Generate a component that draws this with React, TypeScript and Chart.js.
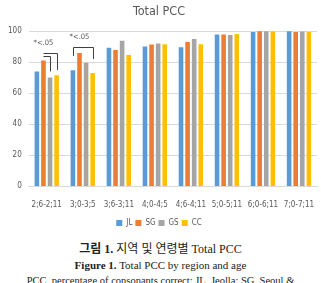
import React, { useEffect, useRef } from "react";
import { Chart, registerables } from "chart.js";

Chart.register(...registerables);

const ageGroups = ["2;6-2;11", "3;0-3;5", "3;6-3;11", "4;0-4;5", "4;6-4;11", "5;0-5;11", "6;0-6;11", "7;0-7;11"];
const regions = ["JL", "SG", "GS", "CC"];
const jlValues = [74, 74.8, 89.3, 90, 89.6, 97.8, 99.3, 99.8];
const sgValues = [81, 85.9, 87.8, 91.3, 93, 97.8, 99.8, 99.3];
const gsValues = [70, 79.6, 93.7, 92, 94.8, 97.4, 99.8, 99.6];
const ccValues = [71.5, 73, 84.6, 91.5, 91.5, 98, 99.6, 99.3];
const regionColors = ["#5B9BD5", "#ED7D31", "#A5A5A5", "#FFC000"];
const yTicks = [0, 20, 40, 60, 80, 100];
const sigLabel = "*<.05";

const chartFont = "'DejaVu Sans Condensed', Roboto, sans-serif";

// Significance markers: bracket between two bars of a group, at a value level.
const brackets = [
  { group: 0, from: 1, to: 3, level: 86, leftDrop: 0, rightDrop: 75 },
  { group: 0, from: 1, to: 2, level: 84, leftDrop: 0, rightDrop: 74 },
  { group: 1, from: 0, to: 3, level: 89.7, leftDrop: 84, rightDrop: 82 },
];
const sigNotes = [
  { group: 0, level: 92.5 },
  { group: 1, level: 95.8 },
];

const sigPlugin = {
  id: "sigMarks",
  afterDatasetsDraw(chart: any) {
    const ctx = chart.ctx;
    const y = chart.scales.y;
    const barX = (ds: number, g: number) => chart.getDatasetMeta(ds).data[g].x;
    ctx.save();
    ctx.strokeStyle = "#3f3f3f";
    ctx.lineWidth = 1;
    brackets.forEach((b) => {
      const x1 = Math.round(barX(b.from, b.group)) + 0.5;
      const x2 = Math.round(barX(b.to, b.group)) + 0.5;
      const yt = Math.round(y.getPixelForValue(b.level)) + 0.5;
      ctx.beginPath();
      if (b.leftDrop) {
        ctx.moveTo(x1, y.getPixelForValue(b.leftDrop));
        ctx.lineTo(x1, yt);
      } else {
        ctx.moveTo(x1, yt);
      }
      ctx.lineTo(x2, yt);
      ctx.lineTo(x2, y.getPixelForValue(b.rightDrop));
      ctx.stroke();
    });
    ctx.fillStyle = "#595959";
    ctx.font = "7.5px " + chartFont;
    ctx.textAlign = "center";
    ctx.textBaseline = "middle";
    sigNotes.forEach((n) => {
      const cx = barX(1, n.group);
      ctx.fillText(sigLabel, cx, y.getPixelForValue(n.level));
    });
    ctx.restore();
  },
};

function PccChart() {
  const canvasRef = useRef<HTMLCanvasElement | null>(null);

  useEffect(() => {
    document.body.style.margin = "0";
    const canvas = canvasRef.current;
    if (!canvas) return;
    Chart.defaults.font.family = chartFont;
    const seriesValues = [jlValues, sgValues, gsValues, ccValues];
    const chart = new Chart(canvas, {
      type: "bar",
      data: {
        labels: ageGroups,
        datasets: regions.map((name, i) => ({
          label: name,
          data: seriesValues[i],
          backgroundColor: regionColors[i],
          borderWidth: 0,
          categoryPercentage: 0.73,
          barPercentage: 0.7,
        })),
      },
      options: {
        animation: false,
        responsive: true,
        maintainAspectRatio: false,
        layout: { padding: { left: 1, right: 4, top: 0, bottom: 0 } },
        plugins: {
          title: {
            display: true,
            text: "Total PCC",
            color: "#595959",
            font: { size: 12.5, weight: "normal" },
            padding: { top: 4, bottom: 12 },
          },
          legend: {
            position: "bottom",
            labels: {
              boxWidth: 6,
              boxHeight: 6,
              padding: 3,
              color: "#595959",
              font: { size: 8 },
            },
          },
          tooltip: { enabled: false },
        },
        scales: {
          x: {
            grid: { display: false },
            border: { color: "#d9d9d9" },
            ticks: { color: "#595959", font: { size: 8 }, maxRotation: 0, autoSkip: false, padding: 6 },
          },
          y: {
            min: 0,
            max: 100,
            afterBuildTicks: (axis: any) => {
              axis.ticks = yTicks.map((v) => ({ value: v }));
            },
            grid: { color: "#d9d9d9", drawTicks: false },
            border: { display: false },
            ticks: { color: "#595959", font: { size: 8 }, padding: 7 },
          },
        },
      },
      plugins: [sigPlugin],
    });
    return () => chart.destroy();
  }, []);

  return (
    <div style={{ position: "relative", width: 321, height: 237 }}>
      <canvas ref={canvasRef} />
    </div>
  );
}

export default function App() {
  const captionFont = "'Liberation Serif', 'Noto Sans CJK KR', serif";
  return (
    <div style={{ width: 321, fontFamily: captionFont, color: "#222" }}>
      <PccChart />
      <div style={{ textAlign: "center", marginTop: 4 }}>
        <div style={{ fontSize: 12, lineHeight: "16px" }}>
          <b>그림 1.</b> 지역 및 연령별 Total PCC
        </div>
        <div style={{ fontSize: 11, lineHeight: "16px" }}>
          <b>Figure 1.</b> Total PCC by region and age
        </div>
        <div style={{ fontSize: 10.5, lineHeight: "16px", whiteSpace: "nowrap" }}>
          PCC, percentage of consonants correct: JL, Jeolla; SG, Seoul &amp;
        </div>
      </div>
    </div>
  );
}
